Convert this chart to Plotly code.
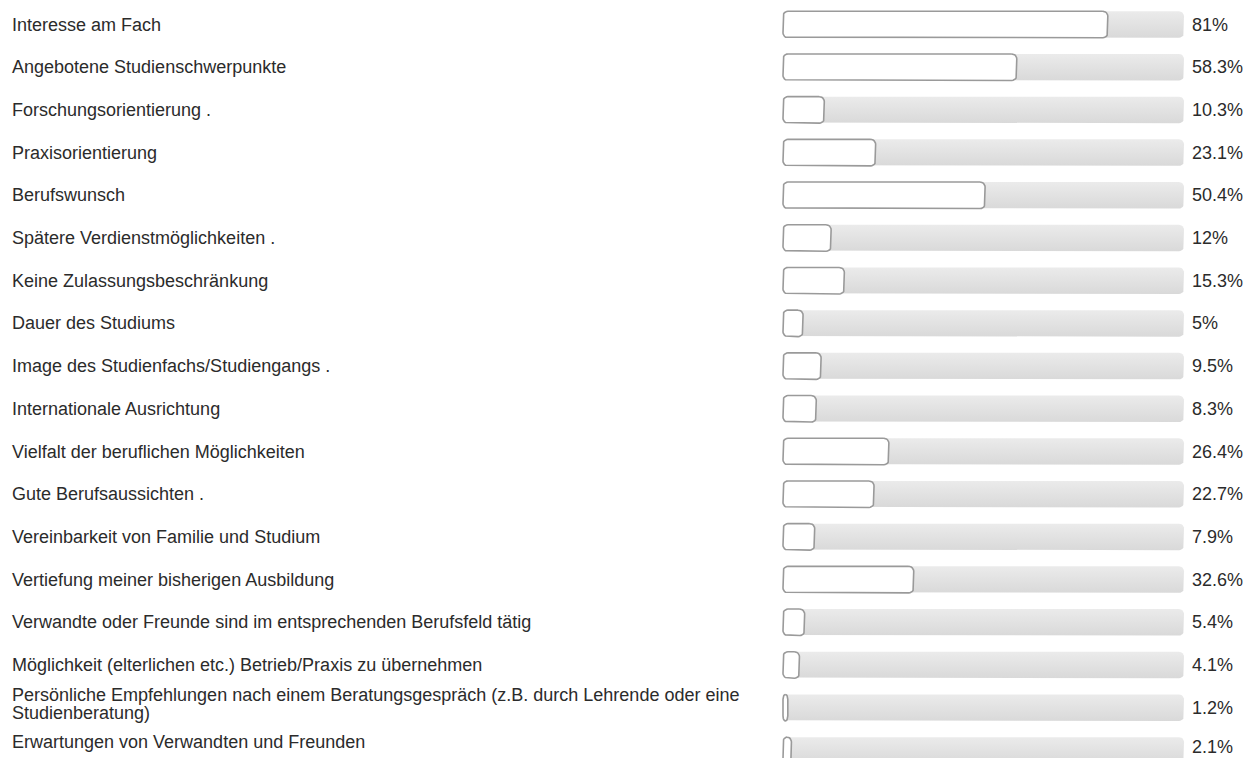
import math
import plotly.graph_objects as go

labels = [
    "Interesse am Fach",
    "Angebotene Studienschwerpunkte",
    "Forschungsorientierung .",
    "Praxisorientierung",
    "Berufswunsch",
    "Spätere Verdienstmöglichkeiten .",
    "Keine Zulassungsbeschränkung",
    "Dauer des Studiums",
    "Image des Studienfachs/Studiengangs .",
    "Internationale Ausrichtung",
    "Vielfalt der beruflichen Möglichkeiten",
    "Gute Berufsaussichten .",
    "Vereinbarkeit von Familie und Studium",
    "Vertiefung meiner bisherigen Ausbildung",
    "Verwandte oder Freunde sind im entsprechenden Berufsfeld tätig",
    "Möglichkeit (elterlichen etc.) Betrieb/Praxis zu übernehmen",
    "Persönliche Empfehlungen nach einem Beratungsgespräch (z.B. durch Lehrende oder eine\nStudienberatung)",
    "Erwartungen von Verwandten und Freunden",
]
values = [81, 58.3, 10.3, 23.1, 50.4, 12, 15.3, 5, 9.5, 8.3, 26.4, 22.7, 7.9, 32.6, 5.4, 4.1, 1.2, 2.1]
pct_labels = ["81%", "58.3%", "10.3%", "23.1%", "50.4%", "12%", "15.3%", "5%", "9.5%", "8.3%",
              "26.4%", "22.7%", "7.9%", "32.6%", "5.4%", "4.1%", "1.2%", "2.1%"]
track_max = 100

# ---- layout geometry (pixels) ----
W, H = 1247, 758
track_left_px = 783
track_width_px = 401
ppu = track_width_px / track_max          # pixels per percent
x0 = -track_left_px / ppu
x1 = (W - track_left_px) / ppu
row_px = 42.7
first_center = 24.5
y_top = -first_center / row_px
y_bot = y_top + H / row_px
bar_h_px = 26.5
radius_px = 5


def rounded_rect(xa, xb, yc, h_px, r_px, seg=6):
    """Closed outline of a rounded rectangle in data units (y axis reversed)."""
    w_px = max((xb - xa) * ppu, 0.5)
    rx = min(r_px, w_px / 2) / ppu
    ry = min(r_px, h_px / 2) / row_px
    ya = yc - h_px / 2 / row_px
    yb = yc + h_px / 2 / row_px
    xs, ys = [], []
    ts = [k * (math.pi / 2) / seg for k in range(seg + 1)]
    cx, cy = xb - rx, ya + ry
    for t in ts:
        xs.append(cx + rx * math.sin(t)); ys.append(cy - ry * math.cos(t))
    cx, cy = xb - rx, yb - ry
    for t in ts:
        xs.append(cx + rx * math.cos(t)); ys.append(cy + ry * math.sin(t))
    cx, cy = xa + rx, yb - ry
    for t in ts:
        xs.append(cx - rx * math.sin(t)); ys.append(cy + ry * math.cos(t))
    cx, cy = xa + rx, ya + ry
    for t in ts:
        xs.append(cx - rx * math.cos(t)); ys.append(cy - ry * math.sin(t))
    xs.append(xs[0]); ys.append(ys[0])
    return xs, ys


n = len(labels)
fig = go.Figure()

# grey tracks (0..100) with a subtle vertical gradient
for i in range(n):
    xs, ys = rounded_rect(0, track_max, i, bar_h_px, radius_px)
    fig.add_trace(go.Scatter(
        x=xs, y=ys, mode="lines", fill="toself", line=dict(width=0, color="rgba(0,0,0,0)"),
        fillgradient=dict(type="vertical",
                          colorscale=[[0, "#ebebeb"], [1, "#d9d9d9"]],
                          start=i - bar_h_px / 2 / row_px, stop=i + bar_h_px / 2 / row_px),
        hoverinfo="skip", showlegend=False,
    ))

# white value bars with grey rounded border
vx, vy = [], []
for i, v in enumerate(values):
    xs, ys = rounded_rect(0, v, i, bar_h_px, radius_px)
    vx += xs + [None]
    vy += ys + [None]
fig.add_trace(go.Scatter(
    x=vx, y=vy, mode="lines", fill="toself", fillcolor="#ffffff",
    line=dict(color="#9a9a9a", width=1.6),
    hoverinfo="skip", showlegend=False,
))

font = dict(family="Liberation Sans, Arial, sans-serif", size=18, color="#2b2b2b")
label_x = x0 + 10 / ppu
pct_x = track_max + 6 / ppu
line_gap = 18 / row_px
label_nudge_px = {16: -4, 17: -8}
pct_nudge_px = {17: -3}
for i, (lab, pt) in enumerate(zip(labels, pct_labels)):
    lines = lab.split("\n")
    k = len(lines)
    center = i + label_nudge_px.get(i, 0) / row_px
    for j, ln in enumerate(lines):
        yy = center + (j - (k - 1) / 2) * line_gap
        fig.add_annotation(x=label_x, y=yy, text=ln, showarrow=False, xanchor="left",
                           yanchor="middle", align="left", font=font, xref="x", yref="y")
    fig.add_annotation(x=pct_x, y=i + pct_nudge_px.get(i, 0) / row_px, text=pt,
                       showarrow=False, xanchor="left", yanchor="middle", align="left",
                       font=font, xref="x", yref="y")

fig.update_layout(
    width=W, height=H, margin=dict(l=0, r=0, t=0, b=0),
    paper_bgcolor="white", plot_bgcolor="white",
    xaxis=dict(range=[x0, x1], visible=False, fixedrange=True),
    yaxis=dict(range=[y_bot, y_top], visible=False, fixedrange=True),
    showlegend=False, hovermode=False,
)
fig.write_html("out.html", config={"displayModeBar": False, "staticPlot": True},
               post_script="document.body.style.margin='0';")
